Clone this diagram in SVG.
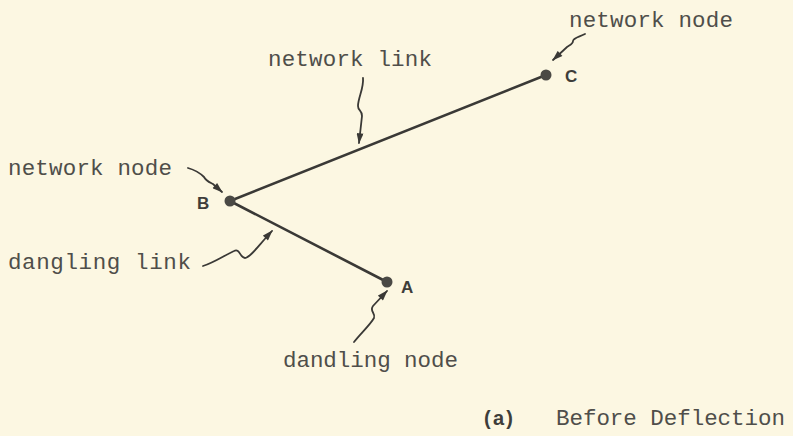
<svg xmlns="http://www.w3.org/2000/svg" width="793" height="436" viewBox="0 0 793 436">
<defs>
<style>
.t{font-family:"Liberation Mono","DejaVu Sans Mono",monospace;font-size:22.5px;fill:#4f4e4a}
.n{font-family:"Liberation Sans","DejaVu Sans",sans-serif;font-weight:bold;font-size:17px;fill:#3e3d3a}
.cap{font-size:20px}
.link{stroke:#3a3936;stroke-width:2.6;fill:none;stroke-linecap:round}
.arr{stroke:#3a3936;stroke-width:1.8;fill:none;stroke-linecap:round;marker-end:url(#ah)}
.dot{fill:#4a4945}
</style>
<marker id="ah" viewBox="0 0 12 8" refX="11" refY="4" markerWidth="12" markerHeight="7" markerUnits="userSpaceOnUse" orient="auto">
<path d="M0,0 L12,4 L0,8 z" fill="#3a3936"/>
</marker>
</defs>
<rect width="793" height="436" fill="#fcf7e2"/>
<g id="connectors">
<line class="link" x1="230" y1="201" x2="546" y2="75"/>
<line class="link" x1="230" y1="201" x2="387" y2="282"/>
<path class="arr" d="M585,34 C579,37 573,38 573,41 C573,44 570,45 567,47 L553,60"/>
<path class="arr" d="M363,78 C364,88 358,98 358,106 C358,111 362,110 362,116 L359,143"/>
<path class="arr" d="M188,168 C195,170 200,173 204,177 C206,181 209,182 213,184 L222,192"/>
<path class="arr" d="M203,266 C215,262 225,255 234,251 C240,248 240,258 245,258 C250,258 258,246 272,231"/>
<path class="arr" d="M354,342 C362,332 370,325 374,318 C376,313 369,311 373,306 L387,291"/>
</g>
<g id="node-C">
<circle class="dot" cx="546" cy="75" r="5.5"/>
<text class="n" x="565" y="82">C</text>
</g>
<g id="node-B">
<circle class="dot" cx="230" cy="201" r="5.5"/>
<text class="n" x="197" y="209">B</text>
</g>
<g id="node-A">
<circle class="dot" cx="387" cy="282" r="5.5"/>
<text class="n" x="401" y="293">A</text>
</g>
<g id="labels">
<text class="t" x="569" y="27" textLength="164" lengthAdjust="spacing">network node</text>
<text class="t" x="268" y="66" textLength="164" lengthAdjust="spacing">network link</text>
<text class="t" x="8" y="175" textLength="164" lengthAdjust="spacing">network node</text>
<text class="t" x="8" y="269" textLength="183" lengthAdjust="spacing">dangling link</text>
<text class="t" x="283" y="367" textLength="175" lengthAdjust="spacing">dandling node</text>
<text class="n cap" x="484" y="425" textLength="29" lengthAdjust="spacing">(a)</text>
<text class="t" x="556" y="425" textLength="229" lengthAdjust="spacing">Before Deflection</text>
</g>
</svg>
